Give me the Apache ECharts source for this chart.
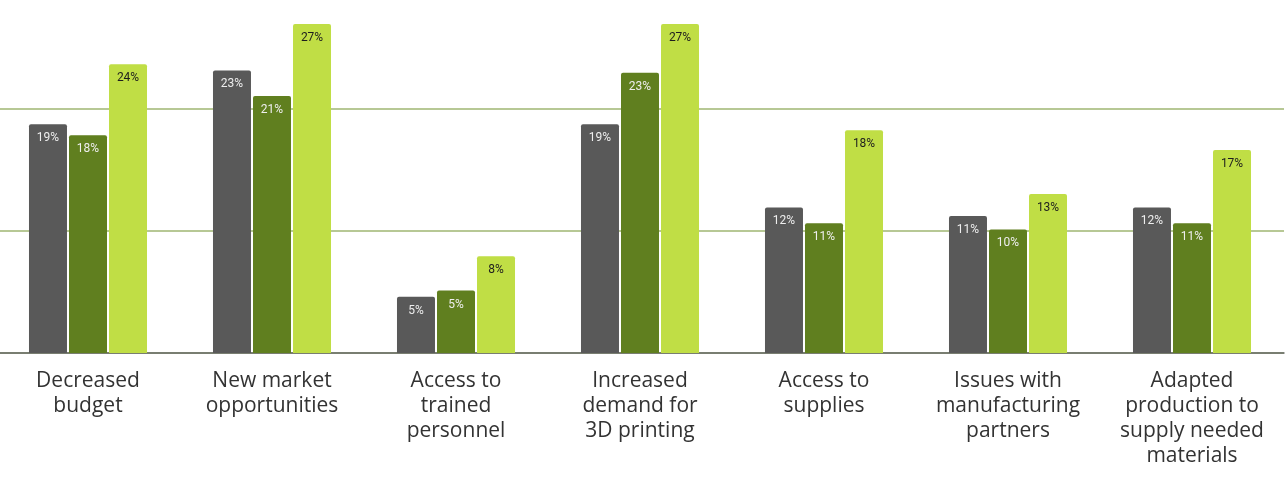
<!DOCTYPE html>
<html>
<head>
<meta charset="utf-8">
<script src="https://cdn.jsdelivr.net/npm/echarts@6/dist/echarts.min.js"></script>
<style>
html,body{margin:0;padding:0;background:#fff;overflow:hidden;width:1287px;height:483px;}
#chart{width:1291px;height:497px;margin-left:-4px;margin-top:-14px;}
</style>
</head>
<body>
<div id="chart"></div>
<script>
const categories = [
  'Decreased\nbudget',
  'New market\nopportunities',
  'Access to\ntrained\npersonnel',
  'Increased\ndemand for\n3D printing',
  'Access to\nsupplies',
  'Issues with\nmanufacturing\npartners',
  'Adapted\nproduction to\nsupply needed\nmaterials'
];
const seriesA = [18.7, 23.1, 4.6, 18.7, 11.9, 11.2, 11.9];
const seriesB = [17.8, 21.0, 5.1, 22.9, 10.6, 10.1, 10.6];
const seriesC = [23.6, 26.9, 7.9, 26.9, 18.2, 13.0, 16.6];
const yTicks = [0, 10, 20, 30];

const colors = ['#595959', '#607f1f', '#c0de45'];
const labelColors = ['#eeeeee', '#eeeeee', '#1e1e1e'];

function mkSeries(data, i) {
  return {
    type: 'bar',
    data: data,
    barWidth: 38,
    barGap: '5.3%',
    itemStyle: { color: colors[i], borderRadius: [2, 2, 0, 0] },
    label: {
      show: true,
      position: 'insideTop',
      distance: 8,
      fontFamily: 'Roboto',
      fontSize: 12,
      color: labelColors[i],
      formatter: p => Math.round(p.value) + '%'
    }
  };
}

const chart = echarts.init(document.getElementById('chart'), null, { renderer: 'canvas' });
chart.setOption({
  animation: false,
  backgroundColor: '#ffffff',
  grid: { left: 0, right: 3, top: 0, bottom: 130, containLabel: false },
  xAxis: {
    type: 'category',
    data: categories,
    axisLine: { show: true, lineStyle: { color: '#666666', width: 1.5 } },
    axisTick: { show: false },
    axisLabel: {
      interval: 0,
      margin: 16,
      fontFamily: 'Open Sans',
      fontSize: 21,
      lineHeight: 25,
      color: '#333333'
    }
  },
  yAxis: {
    type: 'value',
    min: yTicks[0],
    max: yTicks[yTicks.length - 1],
    interval: 10,
    axisLine: { show: false },
    axisTick: { show: false },
    axisLabel: { show: false },
    splitLine: { show: true, lineStyle: { color: '#9fb672', width: 1.5 } }
  },
  series: [mkSeries(seriesA, 0), mkSeries(seriesB, 1), mkSeries(seriesC, 2)]
});
</script>
</body>
</html>
